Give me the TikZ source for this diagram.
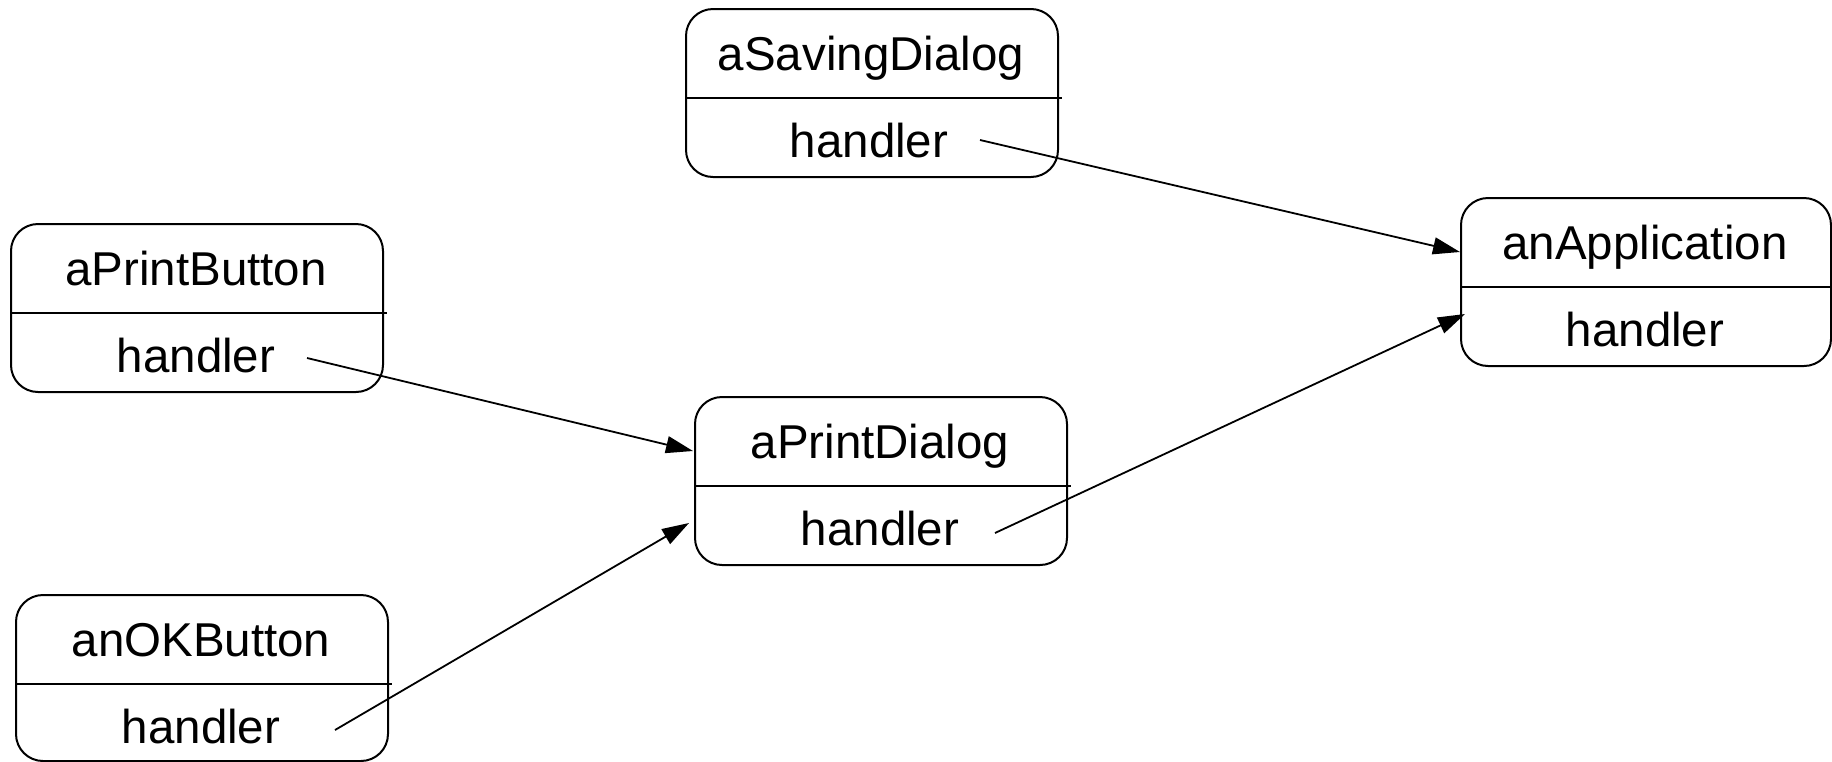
\documentclass[tikz,border=0pt]{standalone}
\usepackage{fontspec}
\setmainfont{Liberation Sans}
\usetikzlibrary{arrows.meta}
\begin{document}
\begin{tikzpicture}[x=0.5pt,y=-0.5pt,
  objbox/.style={draw, line width=1pt, rounded corners=13.5pt, minimum width=186pt, minimum height=84pt, anchor=north west, inner sep=0pt},
  lbl/.style={anchor=base, font=\fontsize{23.75}{28}\selectfont, inner sep=0pt},
  divider/.style={line width=1pt},
  link/.style={line width=0.9pt, -{Triangle[length=13.5pt,width=8.5pt]}}]
\useasboundingbox (0,0) rectangle (1832,761);

% aSavingDialog
\node[objbox] (sd) at (685,8) {};
\node[lbl] (sdT) at (871,70) {aSavingDialog};
\node[lbl] (sdH) at (869,157) {handler};
\draw[divider] ([yshift=-45pt]sd.north west) -- ([yshift=-45pt,xshift=1.5pt]sd.north east);

% aPrintButton
\node[objbox] (pb) at (10,223) {};
\node[lbl] (pbT) at (196,285) {aPrintButton};
\node[lbl] (pbH) at (196,372) {handler};
\draw[divider] ([yshift=-45pt]pb.north west) -- ([yshift=-45pt,xshift=1.5pt]pb.north east);

% anOKButton
\node[objbox, minimum height=83pt] (ok) at (15,594) {};
\node[lbl] (okT) at (201,656) {anOKButton};
\node[lbl] (okH) at (201,743) {handler};
\draw[divider] ([yshift=-45pt]ok.north west) -- ([yshift=-45pt,xshift=1.5pt]ok.north east);

% aPrintDialog
\node[objbox] (pd) at (694,396) {};
\node[lbl] (pdT) at (880,458) {aPrintDialog};
\node[lbl] (pdH) at (880,545) {handler};
\draw[divider] ([yshift=-45pt]pd.north west) -- ([yshift=-45pt,xshift=1.5pt]pd.north east);

% anApplication
\node[objbox, minimum width=185pt] (app) at (1460,197) {};
\node[lbl] (appT) at (1645,259) {anApplication};
\node[lbl] (appH) at (1645,346) {handler};
\draw[divider] ([yshift=-45pt]app.north west) -- ([yshift=-45pt]app.north east);

% connector ends
\coordinate (sdS) at (980,140);
\coordinate (pbS) at (307,358);
\coordinate (okS) at (335,730);
\coordinate (pdS) at (995,533);
\coordinate (pdIn1) at (693,451);
\coordinate (pdIn2) at (689,523);
\coordinate (appIn1) at (1460,252);
\coordinate (appIn2) at (1465,314);

\draw[link] (sdS) -- (appIn1);
\draw[link] (pdS) -- (appIn2);
\draw[link] (pbS) -- (pdIn1);
\draw[link] (okS) -- (pdIn2);
\end{tikzpicture}
\end{document}
